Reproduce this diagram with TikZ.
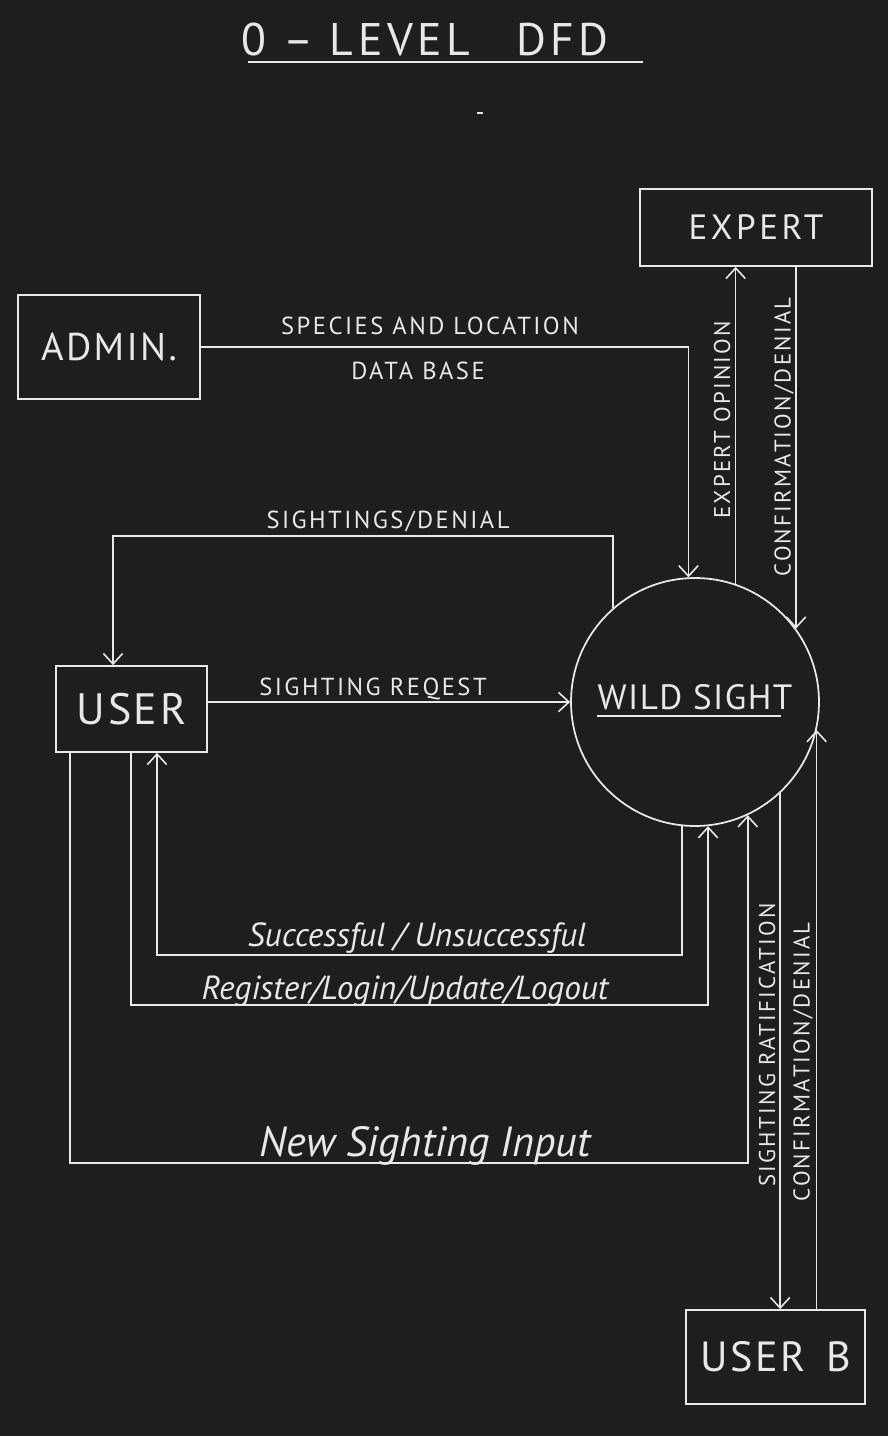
\documentclass[tikz,border=0pt]{standalone}
\usepackage{fontspec}
\setmainfont{PT Sans}
\usetikzlibrary{arrows.meta,positioning,calc}
\definecolor{boardBg}{RGB}{30,30,30}
\definecolor{chalk}{RGB}{232,232,232}
\tikzset{
    entity/.style={rectangle, draw=chalk, line width=1pt, text=chalk,
        font={\fontsize{24}{26}\selectfont\addfontfeature{LetterSpace=6}}},
    process/.style={circle, draw=chalk, line width=1pt, text=chalk,
        minimum size=4.96cm, inner sep=0pt, text depth=6pt,
        font={\fontsize{20}{22}\selectfont\addfontfeature{LetterSpace=4}}},
    flow/.style={-{Straight Barb[length=6pt,width=11pt]}, draw=chalk, line width=0.9pt},
    lbl/.style={text=chalk, inner sep=1pt,
        font={\fontsize{14}{16}\selectfont\addfontfeature{LetterSpace=10}}},
    vlbl/.style={lbl, rotate=90,
        font={\fontsize{13}{15}\selectfont\addfontfeature{LetterSpace=10}}},
    hand/.style={text=chalk, inner sep=1pt, font=\itshape\fontsize{19}{21}\selectfont},
}

\begin{document}
\begin{tikzpicture}[x=0.02cm, y=-0.02cm]

% Board
\fill[boardBg] (0,0) rectangle (888,1436);

% Title
\node[text=chalk, font={\fontsize{26}{28}\selectfont\addfontfeature{LetterSpace=10}}] (title) at (425,40) {0 -- LEVEL\quad DFD};
\draw[chalk, line width=1pt] (248,62) -- (643,62);
\draw[chalk, line width=1pt] (477,113) -- (483,113);

% External entities
\node[entity, minimum width=3.64cm, minimum height=2.08cm,
      font={\fontsize{22}{24}\selectfont\addfontfeature{LetterSpace=6}}] (admin) at (109,347) {ADMIN.};
\node[entity, minimum width=4.64cm, minimum height=1.54cm,
      font={\fontsize{20}{22}\selectfont\addfontfeature{LetterSpace=10}}] (expert) at (756,227.5) {EXPERT};
\node[entity, minimum width=3.02cm, minimum height=1.72cm,
      font={\fontsize{25}{27}\selectfont\addfontfeature{LetterSpace=6}}] (user) at (131.5,709) {USER};
\node[entity, minimum width=3.58cm, minimum height=1.88cm] (userb) at (775.5,1357) {USER\enspace B};

% Process
\node[process] (wild) at (695,702) {WILD SIGHT};
\draw[chalk, line width=1pt] (597,716) -- (781,716);

% Corners of the long flows
\coordinate (sdcorner) at (113,536);
\coordinate (sucorner) at (157,955);
\coordinate (rgcorner) at (131,1005);
\coordinate (nscorner) at (70,1163);

% Flows
\draw[flow] (admin.east) -| (wild.93);
\draw[flow] (wild.71) -- (wild.71 |- expert.south);
\draw[flow] (expert.south -| wild.36) -- (wild.36);
\draw[flow] (wild.131) |- (sdcorner) -- (sdcorner |- user.north);
\draw[flow] (user.east |- wild.west) -- (wild.west);
\draw[flow] (wild.264) |- (sucorner) -- (sucorner |- user.south);
\draw[flow] (rgcorner |- user.south) -- (rgcorner) -| (wild.276);
\draw[flow] (nscorner |- user.south) -- (nscorner) -| (wild.295);
\draw[flow] (wild.313) -- (wild.313 |- userb.north);
\draw[flow] (userb.north -| wild.347) -- (wild.347);

% Flow labels
\node[lbl] (speciesLbl) at (430,326) {SPECIES AND LOCATION};
\node[lbl] (databaseLbl) at (418,371) {DATA BASE};
\node[lbl] (sightDenLbl) at (388,521) {SIGHTINGS/DENIAL};
\node[lbl] (requestLbl) at (373,689) {SIGHTING REQEST};
\node[vlbl] (opinionLbl) at (722,420) {EXPERT OPINION};
\node[vlbl] (confirmLbl) at (784,437) {CONFIRMATION/DENIAL};
\node[hand] (successLbl) at (417,938) {Successful / Unsuccessful};
\node[hand] (registerLbl) at (405,991) {Register/Login/Update/Logout};
\node[hand, font=\itshape\fontsize{24}{26}\selectfont] (newInputLbl) at (425,1146) {New Sighting Input};
\node[vlbl] (ratifyLbl) at (767,1045) {SIGHTING RATIFICATION};
\node[vlbl] (confirmBLbl) at (803,1062) {CONFIRMATION/DENIAL};

\end{tikzpicture}
\end{document}
